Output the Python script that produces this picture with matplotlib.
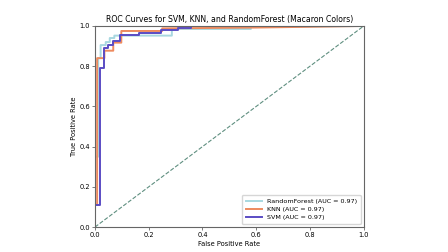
import numpy as np
import matplotlib
matplotlib.use('Agg')
import matplotlib.pyplot as plt

# ROC points (step curves)
rf_fpr = [0, 0, 0.012, 0.012, 0.021, 0.021, 0.04, 0.04, 0.055, 0.055, 0.072, 0.072, 0.286, 0.286, 0.58, 0.58, 1.0]
rf_tpr = [0, 0.35, 0.35, 0.84, 0.84, 0.905, 0.905, 0.92, 0.92, 0.94, 0.94, 0.952, 0.952, 0.985, 0.985, 0.995, 1.0]

knn_fpr = [0, 0, 0.008, 0.008, 0.035, 0.035, 0.068, 0.068, 0.098, 0.098, 0.25, 0.25, 0.6, 1.0]
knn_tpr = [0, 0.11, 0.11, 0.84, 0.84, 0.877, 0.877, 0.917, 0.917, 0.975, 0.975, 0.988, 0.992, 1.0]

svm_fpr = [0, 0, 0.02, 0.02, 0.035, 0.035, 0.05, 0.05, 0.068, 0.068, 0.093, 0.093, 0.165, 0.165,
           0.245, 0.245, 0.31, 0.31, 0.357, 0.357, 1.0]
svm_tpr = [0, 0.11, 0.11, 0.79, 0.79, 0.89, 0.89, 0.905, 0.905, 0.925, 0.925, 0.955, 0.955, 0.967,
           0.967, 0.978, 0.978, 0.99, 0.99, 1.0, 1.0]

labels = ['RandomForest', 'KNN', 'SVM']
aucs = [0.97, 0.97, 0.97]
colors = ['#a8d8e0', '#ee8a5e', '#5a4cc4']

fig = plt.figure(figsize=(4.48, 2.52), dpi=100)
ax = fig.add_axes([0.212, 0.099, 0.600, 0.798])

curves = [(rf_fpr, rf_tpr), (knn_fpr, knn_tpr), (svm_fpr, svm_tpr)]
for (fpr, tpr), name, auc, c in zip(curves, labels, aucs, colors):
    ax.plot(fpr, tpr, color=c, lw=1.4, label=f'{name} (AUC = {auc:.2f})')

ax.plot([0, 1], [0, 1], color='#5f8f80', lw=0.8, linestyle='--')

ax.set_xlim(0, 1)
ax.set_ylim(0, 1)
ax.set_xlabel('False Positive Rate', fontsize=4.8, labelpad=2)
ax.set_ylabel('True Positive Rate', fontsize=4.8, labelpad=2)
ax.set_title('ROC Curves for SVM, KNN, and RandomForest (Macaron Colors)', fontsize=5.6, pad=3)
ax.tick_params(labelsize=4.8, length=2, width=0.6, pad=1.5, color='0.4')
for s in ax.spines.values():
    s.set_color('0.4')
    s.set_linewidth(0.8)

ax.legend(loc='lower right', fontsize=4.6, frameon=True, borderpad=0.6, handlelength=2.5,
          labelspacing=0.4, fancybox=True, edgecolor='0.8')

fig.savefig('out.png', dpi=100)
